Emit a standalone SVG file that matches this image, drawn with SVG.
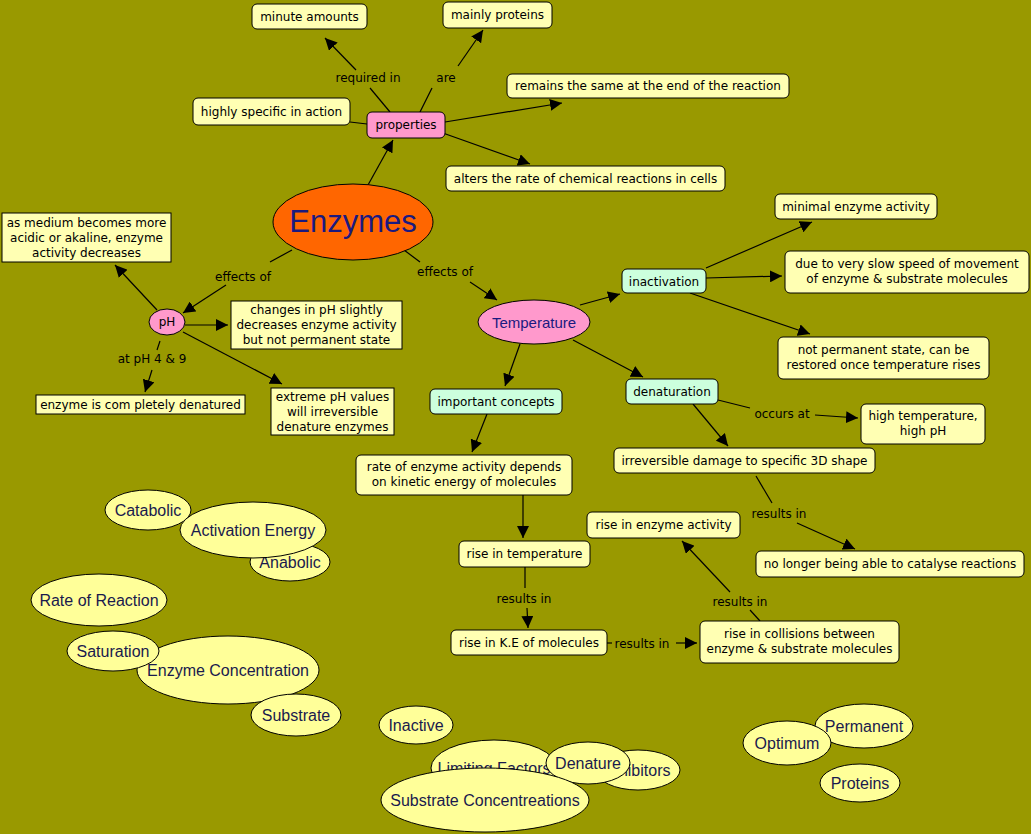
<svg xmlns="http://www.w3.org/2000/svg" width="1031" height="834" viewBox="0 0 1031 834">
<defs>
<marker id="a" viewBox="0 0 10 10" refX="10" refY="5" markerWidth="12" markerHeight="12" markerUnits="userSpaceOnUse" orient="auto"><path d="M0,0L10,5L0,10z" fill="#000"/></marker>
<style>
.b{fill:#ffffb3;stroke:#000;stroke-width:1}
.g{fill:#ccffdd;stroke:#000}
.p{fill:#ff99cc;stroke:#000}
.o{fill:#ffff99;stroke:#000}
.t{font-family:"DejaVu Sans",Verdana,sans-serif;font-size:12px;fill:#000;text-anchor:middle}
.l{font-family:"DejaVu Sans",Verdana,sans-serif;font-size:12px;fill:#000;text-anchor:middle}
.f{font-family:"Liberation Sans",Arial,sans-serif;font-size:16px;fill:#1a1a4d;text-anchor:middle}
#c line{stroke:#000;stroke-width:1.2}
#c line.m{marker-end:url(#a)}
</style>
</defs>
<rect width="1031" height="834" fill="#999900"/>
<g id="c">
<line x1="390" y1="112" x2="370" y2="88"/><line class="m" x1="356" y1="70" x2="325" y2="38"/>
<line x1="420" y1="112" x2="432" y2="88"/><line class="m" x1="458" y1="66" x2="483" y2="30"/>
<line class="m" x1="445" y1="122" x2="562" y2="103"/>
<line x1="350" y1="122" x2="367" y2="124"/>
<line class="m" x1="440" y1="132" x2="530" y2="164"/>
<line class="m" x1="368" y1="185" x2="393" y2="140"/>
<line x1="292" y1="250" x2="270" y2="262"/><line class="m" x1="226" y1="285" x2="183" y2="313"/>
<line x1="404" y1="250" x2="420" y2="262"/><line class="m" x1="470" y1="282" x2="497" y2="300"/>
<line class="m" x1="157" y1="310" x2="115" y2="265"/>
<line class="m" x1="185" y1="325" x2="228" y2="325"/>
<line x1="160" y1="341" x2="157" y2="350"/><line class="m" x1="152" y1="370" x2="145" y2="392"/>
<line class="m" x1="183" y1="332" x2="282" y2="384"/>
<line class="m" x1="580" y1="305" x2="620" y2="294"/>
<line class="m" x1="520" y1="344" x2="505" y2="386"/>
<line class="m" x1="573" y1="340" x2="643" y2="377"/>
<line class="m" x1="706" y1="268" x2="812" y2="222"/>
<line class="m" x1="706" y1="278" x2="782" y2="276"/>
<line class="m" x1="690" y1="293" x2="810" y2="334"/>
<line x1="718" y1="400" x2="750" y2="408"/><line class="m" x1="815" y1="415" x2="858" y2="418"/>
<line class="m" x1="693" y1="404" x2="728" y2="446"/>
<line x1="756" y1="476" x2="772" y2="503"/><line class="m" x1="797" y1="523" x2="855" y2="549"/>
<line class="m" x1="487" y1="414" x2="472" y2="452"/>
<line class="m" x1="523" y1="495" x2="523" y2="538"/>
<line x1="525" y1="567" x2="525" y2="588"/><line class="m" x1="527" y1="608" x2="528" y2="628"/>
<line x1="607" y1="643" x2="612" y2="643"/><line class="m" x1="676" y1="643" x2="697" y2="643"/>
<line x1="760" y1="621" x2="750" y2="610"/><line class="m" x1="730" y1="592" x2="682" y2="541"/>
</g>
<g id="labels">
<text class="l" x="368" y="82">required in</text>
<text class="l" x="446" y="82">are</text>
<text class="l" x="243" y="281">effects of</text>
<text class="l" x="445" y="276">effects of</text>
<text class="l" x="152" y="363">at pH 4 &amp; 9</text>
<text class="l" x="782" y="418">occurs at</text>
<text class="l" x="779" y="518">results in</text>
<text class="l" x="524" y="603">results in</text>
<text class="l" x="642" y="648">results in</text>
<text class="l" x="740" y="606">results in</text>
</g>
<g id="n1"><rect class="b" x="252" y="4" width="115" height="25" rx="5"/><text class="t" x="309.5" y="21">minute amounts</text></g>
<g id="n2"><rect class="b" x="443" y="2" width="109" height="26" rx="5"/><text class="t" x="497.5" y="19">mainly proteins</text></g>
<g id="n3"><rect class="b" x="507" y="74" width="282" height="24" rx="5"/><text class="t" x="648" y="90">remains the same at the end of the reaction</text></g>
<g id="n4"><rect class="b" x="193" y="98" width="157" height="27" rx="5"/><text class="t" x="271.5" y="116">highly specific in action</text></g>
<g id="n5"><rect class="p" x="367" y="112" width="78" height="26" rx="5"/><text class="t" x="406" y="129">properties</text></g>
<g id="n6"><rect class="b" x="446" y="166" width="279" height="25" rx="5"/><text class="t" x="585.5" y="183">alters the rate of chemical reactions in cells</text></g>
<g id="n7"><ellipse cx="353" cy="222" rx="80" ry="38" fill="#ff6600" stroke="#000"/><text x="353" y="232" font-family="Liberation Sans,Arial,sans-serif" font-size="31" fill="#1a1a80" text-anchor="middle">Enzymes</text></g>
<g id="n8"><rect class="b" x="775" y="194" width="162" height="25" rx="5"/><text class="t" x="856" y="211">minimal enzyme activity</text></g>
<g id="n9"><rect class="b" x="785" y="251" width="244" height="42" rx="5"/><text class="t" x="907" y="268">due to very slow speed of movement</text><text class="t" x="907" y="283">of enzyme &amp; substrate molecules</text></g>
<g id="n10"><rect class="g" x="622" y="269" width="84" height="24" rx="5"/><text class="t" x="664" y="286">inactivation</text></g>
<g id="n11"><rect class="b" x="778" y="337" width="211" height="42" rx="5"/><text class="t" x="883.5" y="354">not permanent state, can be</text><text class="t" x="883.5" y="369">restored once temperature rises</text></g>
<g id="n12"><ellipse class="p" cx="167" cy="322" rx="18" ry="13"/><text class="t" x="167" y="326" fill="#1a1a80">pH</text></g>
<g id="n13"><rect class="b" x="2" y="213" width="169" height="49"/><text class="t" x="86.5" y="227">as medium becomes more</text><text class="t" x="86.5" y="242">acidic or akaline, enzyme</text><text class="t" x="86.5" y="257">activity decreases</text></g>
<g id="n14"><rect class="b" x="231" y="301" width="171" height="48"/><text class="t" x="316.5" y="314">changes in pH slightly</text><text class="t" x="316.5" y="329">decreases enzyme activity</text><text class="t" x="316.5" y="344">but not permanent state</text></g>
<g id="n15"><rect class="b" x="36" y="395" width="209" height="19"/><text class="t" x="140.5" y="409">enzyme is com pletely denatured</text></g>
<g id="n16"><rect class="b" x="271" y="388" width="123" height="47"/><text class="t" x="332.5" y="401">extreme pH values</text><text class="t" x="332.5" y="416">will irreversible</text><text class="t" x="332.5" y="431">denature enzymes</text></g>
<g id="n17"><ellipse class="p" cx="534" cy="322" rx="56" ry="22"/><text x="534" y="328" font-family="Liberation Sans,Arial,sans-serif" font-size="15" fill="#1a1a80" text-anchor="middle">Temperature</text></g>
<g id="n18"><rect class="g" x="626" y="379" width="92" height="25" rx="5"/><text class="t" x="672" y="396">denaturation</text></g>
<g id="n19"><rect class="g" x="430" y="389" width="132" height="25" rx="5"/><text class="t" x="496" y="406">important concepts</text></g>
<g id="n20"><rect class="b" x="861" y="404" width="124" height="40" rx="5"/><text class="t" x="923" y="420">high temperature,</text><text class="t" x="923" y="435">high pH</text></g>
<g id="n21"><rect class="b" x="614" y="448" width="261" height="25" rx="5"/><text class="t" x="744.5" y="465">irreversible damage to specific 3D shape</text></g>
<g id="n22"><rect class="b" x="356" y="455" width="216" height="40" rx="5"/><text class="t" x="464" y="471">rate of enzyme activity depends</text><text class="t" x="464" y="486">on kinetic energy of molecules</text></g>
<g id="n23"><rect class="b" x="587" y="512" width="153" height="26" rx="5"/><text class="t" x="663.5" y="529">rise in enzyme activity</text></g>
<g id="n24"><rect class="b" x="459" y="541" width="131" height="26" rx="5"/><text class="t" x="524.5" y="558">rise in temperature</text></g>
<g id="n25"><rect class="b" x="756" y="551" width="268" height="26" rx="5"/><text class="t" x="890" y="568">no longer being able to catalyse reactions</text></g>
<g id="n26"><rect class="b" x="451" y="630" width="156" height="25" rx="5"/><text class="t" x="529" y="647">rise in K.E of molecules</text></g>
<g id="n27"><rect class="b" x="700" y="621" width="199" height="42" rx="5"/><text class="t" x="799.5" y="638">rise in collisions between</text><text class="t" x="799.5" y="653">enzyme &amp; substrate molecules</text></g>
<g id="o1"><ellipse class="o" cx="148" cy="510" rx="43" ry="20"/><text class="f" x="148" y="516">Catabolic</text></g>
<g id="o2"><ellipse class="o" cx="290" cy="562" rx="40" ry="19"/><text class="f" x="290" y="568">Anabolic</text></g>
<g id="o3"><ellipse class="o" cx="253" cy="530" rx="73" ry="28"/><text class="f" x="253" y="536">Activation Energy</text></g>
<g id="o4"><ellipse class="o" cx="99" cy="600" rx="68" ry="26"/><text class="f" x="99" y="606">Rate of Reaction</text></g>
<g id="o5"><ellipse class="o" cx="228" cy="670" rx="91" ry="34"/><text class="f" x="228" y="676">Enzyme Concentration</text></g>
<g id="o6"><ellipse class="o" cx="113" cy="651" rx="46" ry="20"/><text class="f" x="113" y="657">Saturation</text></g>
<g id="o7"><ellipse class="o" cx="296" cy="715" rx="45" ry="21"/><text class="f" x="296" y="721">Substrate</text></g>
<g id="o8"><ellipse class="o" cx="416" cy="725" rx="37" ry="19"/><text class="f" x="416" y="731">Inactive</text></g>
<g id="o9"><ellipse class="o" cx="638" cy="770" rx="42" ry="20"/><text class="f" x="638" y="776">Inhibitors</text></g>
<g id="o10"><ellipse class="o" cx="494" cy="768" rx="63" ry="28"/><text class="f" x="494" y="774">Limiting Factors</text></g>
<g id="o11"><ellipse class="o" cx="588" cy="763" rx="42" ry="21"/><text class="f" x="588" y="769">Denature</text></g>
<g id="o12"><ellipse class="o" cx="485" cy="800" rx="104" ry="32"/><text class="f" x="485" y="806">Substrate Concentreations</text></g>
<g id="o13"><ellipse class="o" cx="864" cy="726" rx="49" ry="22"/><text class="f" x="864" y="732">Permanent</text></g>
<g id="o14"><ellipse class="o" cx="787" cy="743" rx="44" ry="22"/><text class="f" x="787" y="749">Optimum</text></g>
<g id="o15"><ellipse class="o" cx="860" cy="783" rx="40" ry="19"/><text class="f" x="860" y="789">Proteins</text></g>
</svg>
